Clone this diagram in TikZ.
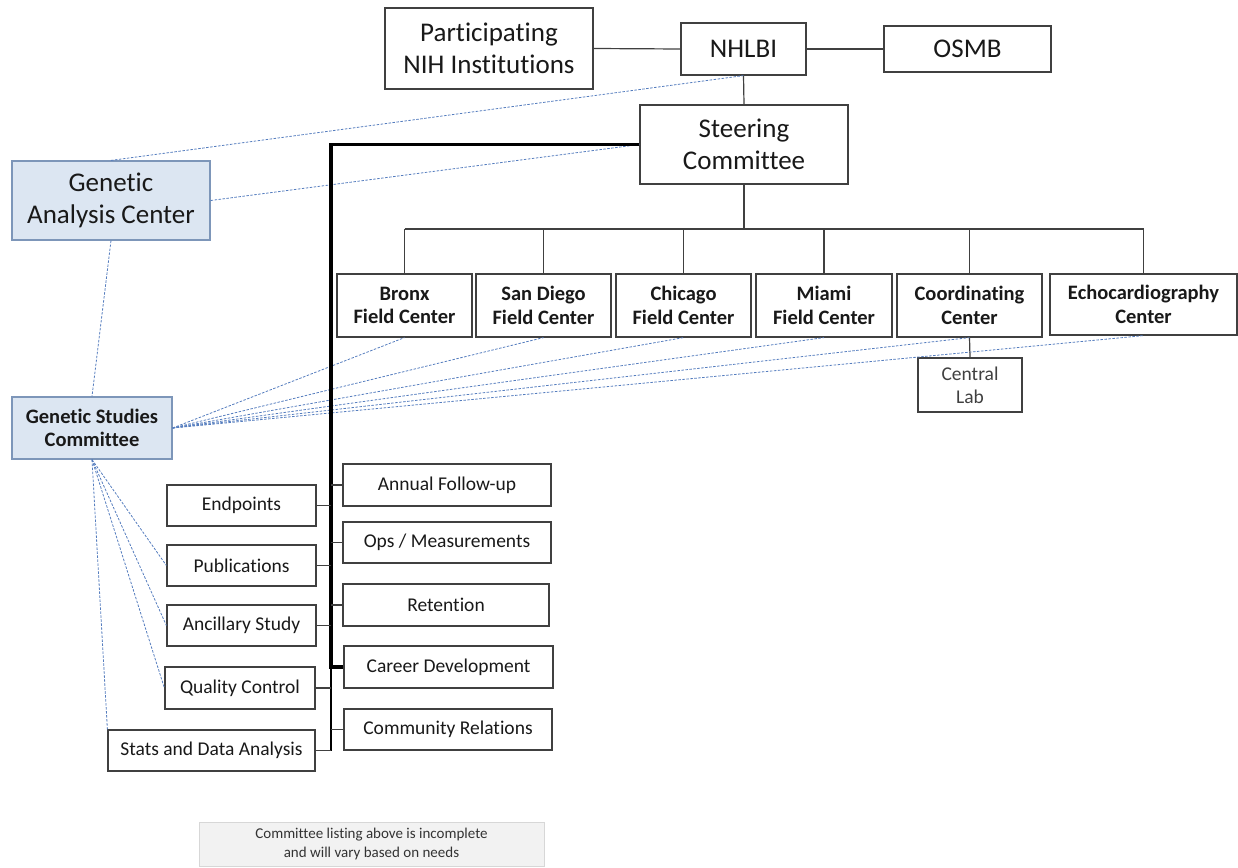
\documentclass[tikz,border=0pt]{standalone}
\usepackage{fontspec}
\setmainfont{Carlito}[Ligatures=NoCommon]
\definecolor{boxline}{RGB}{64,64,64}
\definecolor{genfill}{RGB}{220,230,242}
\definecolor{genline}{RGB}{125,150,185}
\definecolor{linkblue}{RGB}{85,125,190}
\definecolor{notefill}{RGB}{242,242,242}
\definecolor{noteline}{RGB}{215,215,215}
\tikzset{
  orgbox/.style={draw=boxline, line width=1.2pt, fill=white, inner sep=0pt, align=center, text=black!90},
  bigtext/.style={font=\fontsize{27}{32}\selectfont},
  centertext/.style={font=\bfseries\fontsize{20.5}{23.5}\selectfont},
  smalltext/.style={font=\fontsize{19.5}{23}\selectfont},
  genbox/.style={orgbox, draw=genline, fill=genfill},
  orgline/.style={draw=boxline, line width=1.2pt},
  genlink/.style={draw=linkblue, line width=0.8pt, dash pattern=on 2.5pt off 1.5pt},
}
\begin{document}
\begin{tikzpicture}[x=1pt, y=-1pt]
\useasboundingbox (0,0) rectangle (1238,867);

\node[orgbox, bigtext, minimum width=208pt, minimum height=81pt] (part) at (489,48.5) {Participating\\NIH Institutions};
\node[orgbox, bigtext, minimum width=125pt, minimum height=52pt] (nhlbi) at (743.5,49) {NHLBI};
\node[orgbox, bigtext, minimum width=167pt, minimum height=46pt] (osmb) at (967.5,49) {OSMB};
\node[orgbox, bigtext, minimum width=208pt, minimum height=79pt] (steer) at (744,144.5) {Steering\\Committee};

\node[genbox, bigtext, minimum width=198pt, minimum height=79pt] (gac) at (111,200.5) {Genetic\\Analysis Center};
\node[genbox, centertext, minimum width=160pt, minimum height=62pt] (gsc) at (92,428) {Genetic Studies\\Committee};

\node[orgbox, centertext, minimum width=135pt, minimum height=63pt] (bronx) at (404.5,305.5) {Bronx\\Field Center};
\node[orgbox, centertext, minimum width=135pt, minimum height=63pt] (sandiego) at (543.5,305.5) {San Diego\\Field Center};
\node[orgbox, centertext, minimum width=135pt, minimum height=63pt] (chicago) at (683.5,305.5) {Chicago\\Field Center};
\node[orgbox, centertext, minimum width=136pt, minimum height=63pt] (miami) at (824,305.5) {Miami\\Field Center};
\node[orgbox, centertext, minimum width=145pt, minimum height=63pt] (coord) at (969.5,305.5) {Coordinating\\Center};
\node[orgbox, centertext, minimum width=187pt, minimum height=61pt] (echo) at (1143.5,304.5) {Echocardiography\\Center};
\node[orgbox, smalltext, text=black!75, minimum width=104pt, minimum height=54pt] (lab) at (970,385) {Central\\Lab};

\node[orgbox, smalltext, minimum width=149pt, minimum height=41pt] (endp) at (241.5,505.5) {Endpoints};
\node[orgbox, smalltext, minimum width=149pt, minimum height=41pt] (pubs) at (241.5,565.5) {Publications};
\node[orgbox, smalltext, minimum width=149pt, minimum height=41pt] (ancil) at (241.5,625.5) {Ancillary Study};
\node[orgbox, smalltext, minimum width=150pt, minimum height=42pt] (qc) at (240,688) {Quality Control};
\node[orgbox, smalltext, minimum width=207pt, minimum height=41pt] (stats) at (211.5,750.5) {Stats and Data Analysis};

\node[orgbox, smalltext, minimum width=208pt, minimum height=42pt] (annual) at (447,485) {Annual Follow-up};
\node[orgbox, smalltext, minimum width=208pt, minimum height=41pt] (ops) at (447,542.5) {Ops / Measurements};
\node[orgbox, smalltext, minimum width=206pt, minimum height=42pt] (retent) at (446,605) {Retention};
\node[orgbox, smalltext, minimum width=209pt, minimum height=42pt] (career) at (448.5,667) {Career Development};
\node[orgbox, smalltext, minimum width=208pt, minimum height=41pt] (commun) at (448,729.5) {Community Relations};

\node[orgbox, draw=noteline, fill=notefill, text=black!80, font=\fontsize{15}{18.5}\selectfont, line width=0.8pt, minimum width=345pt, minimum height=44pt] (note) at (371.5,844) {Committee listing above is incomplete\\and will vary based on needs};

\draw[genlink] (gac.north) -- (nhlbi.south);
\draw[genlink] (gac.east) -- (steer.west);
\draw[genlink] (gac.south) -- (gsc.north);
\foreach \c in {bronx,sandiego,chicago,miami,coord,echo}
  \draw[genlink] (gsc.east) -- (\c.south);
\foreach \c in {pubs,ancil,qc}
  \draw[genlink] (gsc.south) -- (\c.west);
\draw[genlink] (gsc.south) -- (stats.north west);

\draw[orgline] (part.east) -- (nhlbi.west);
\draw[orgline] (nhlbi.east) -- (osmb.west);
\draw[orgline] (nhlbi.south) -- (steer.north);
\coordinate (bar) at (744,229);
\draw[orgline, line width=2pt] (steer.south) -- (bar);
\draw[orgline] (bronx.north |- bar) -- (echo.north |- bar);
\foreach \c in {bronx,sandiego,chicago,miami,coord,echo}
  \draw[orgline] (\c.north) -- (\c.north |- bar);
\draw[orgline] (coord.south) -- (lab.north);

\coordinate (spine) at (331,0);
\draw[line width=3.6pt] (steer.west) -- (steer.west -| spine) -- (career.west -| spine) -- (career.west);
\draw[line width=1.4pt] (career.west -| spine) -- (stats.east -| spine);
\foreach \c in {endp,pubs,ancil,qc,stats}
  \draw[orgline] (\c.east) -- (\c.east -| spine);
\foreach \c in {annual,ops,retent,commun}
  \draw[orgline] (\c.west) -- (\c.west -| spine);
\end{tikzpicture}
\end{document}
